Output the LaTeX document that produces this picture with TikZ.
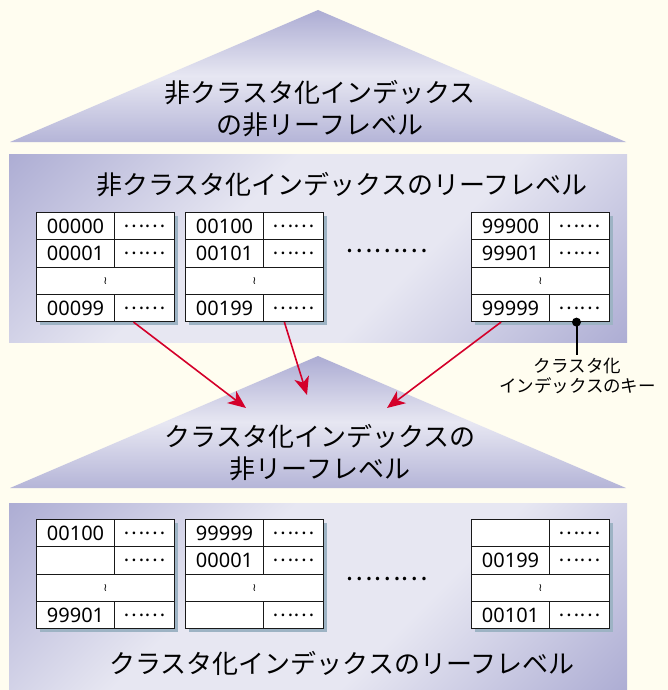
\documentclass[tikz,border=0pt]{standalone}
\usepackage{fontspec}
\setmainfont{Noto Sans CJK JP}
\newfontfamily\symfont{DejaVu Sans}
\newfontfamily\numfont{Noto Sans}
\usetikzlibrary{arrows.meta,calc}
\definecolor{bgc}{HTML}{FFFDF0}
\definecolor{darkl}{HTML}{ACACD3}
\definecolor{lightl}{HTML}{E7E7F2}
\definecolor{shadowc}{HTML}{9DB3C4}
\definecolor{arrowc}{HTML}{D4002A}
\pgfdeclareverticalshading{panelsh}{100bp}{color(0bp)=(darkl); color(14bp)=(darkl); color(40bp)=(lightl); color(60bp)=(lightl); color(86bp)=(darkl); color(100bp)=(darkl)}
\tikzset{
  cellbox/.style={draw=black!90, line width=1.1pt, fill=white, inner sep=0pt, anchor=north west, minimum height=27.25pt},
  keycell/.style={cellbox, minimum width=78pt, font=\numfont\fontsize{20}{20}\selectfont},
  dotcell/.style={cellbox, minimum width=60pt, font=\fontsize{20}{20}\selectfont},
  gapcell/.style={cellbox, minimum width=138pt, font=\symfont\fontsize{11}{11}\selectfont},
  bigtext/.style={font=\fontsize{26}{32}\selectfont, align=center, inner sep=0pt},
  keytext/.style={font=\fontsize{17.5}{20}\selectfont, align=center, inner sep=0pt},
  redarrow/.style={draw=arrowc, line width=1.6pt, -{Stealth[length=18pt,width=15pt,inset=5pt]}},
  panelshade/.style={shading=panelsh, shading angle=45},
  trishade/.style={top color=darkl, bottom color=darkl!85!lightl, middle color=lightl},
}
% name, x, y, key1, key2, key4
\newcommand\mytable[6]{%
  \fill[shadowc] (#2+4,#3+4) rectangle ++(138,109);
  \node[keycell] (#1k1) at (#2,#3) {#4};
  \node[dotcell] (#1d1) at (#2+78,#3) {……};
  \node[keycell] (#1k2) at (#2,#3+27.25) {#5};
  \node[dotcell] (#1d2) at (#2+78,#3+27.25) {……};
  \node[gapcell] (#1g) at (#2,#3+54.5) {≀};
  \node[keycell] (#1k4) at (#2,#3+81.75) {#6};
  \node[dotcell] (#1d4) at (#2+78,#3+81.75) {……};
}
\begin{document}
\begin{tikzpicture}[x=1pt,y=-1pt]
\fill[bgc] (0,0) rectangle (668,690);
\useasboundingbox (0,0) rectangle (668,690);
% top triangle
\shade[trishade] (318,10) -- (626,142) -- (10,142) -- cycle;
\node[bigtext] (toptext) at (320,109) {非クラスタ化インデックス\\の非リーフレベル};
% panel 1
\shade[panelshade] (9,154) rectangle (627,342);
\node[bigtext] (p1title) at (342,185) {非クラスタ化インデックスのリーフレベル};
\mytable{a}{36}{212}{00000}{00001}{00099}
\mytable{b}{185}{212}{00100}{00101}{00199}
\mytable{c}{471}{212}{99900}{99901}{99999}
\node[font=\fontsize{26}{26}\selectfont, inner sep=0pt] (p1dots) at (387,251) {………};
% middle triangle
\shade[trishade] (318,356) -- (626,488) -- (10,488) -- cycle;
\node[bigtext] (midtext) at (320,453) {クラスタ化インデックスの\\非リーフレベル};
% key annotation
\coordinate (keydot) at ($(cd4.south west)!0.45!(cd4.south east)$);
\coordinate (keyend) at ($(keydot)+(0,33)$);
\fill[black] (keydot) circle (4.5);
\draw[line width=2pt] (keydot) -- (keyend);
\node[keytext, anchor=north] (keylabel) at ($(keyend)+(1,3)$) {クラスタ化\\インデックスのキー};
% arrows
\coordinate (m1) at (246,408);
\coordinate (m2) at (307,395);
\coordinate (m3) at (387,408);
\draw[redarrow] ($(ad4.south west)!0.32!(ad4.south east)$) -- (m1);
\draw[redarrow] ($(bd4.south west)!0.35!(bd4.south east)$) -- (m2);
\draw[redarrow] ($(ck4.south west)!0.38!(ck4.south east)$) -- (m3);
% panel 2
\shade[panelshade] (9,503) rectangle (627,690);
\mytable{d}{36}{519}{00100}{}{99901}
\mytable{e}{185}{519}{99999}{00001}{}
\mytable{f}{471}{519}{}{00199}{00101}
\node[font=\fontsize{26}{26}\selectfont, inner sep=0pt] (p2dots) at (387,579) {………};
\node[bigtext] (p2title) at (342,663) {クラスタ化インデックスのリーフレベル};
\end{tikzpicture}
\end{document}
